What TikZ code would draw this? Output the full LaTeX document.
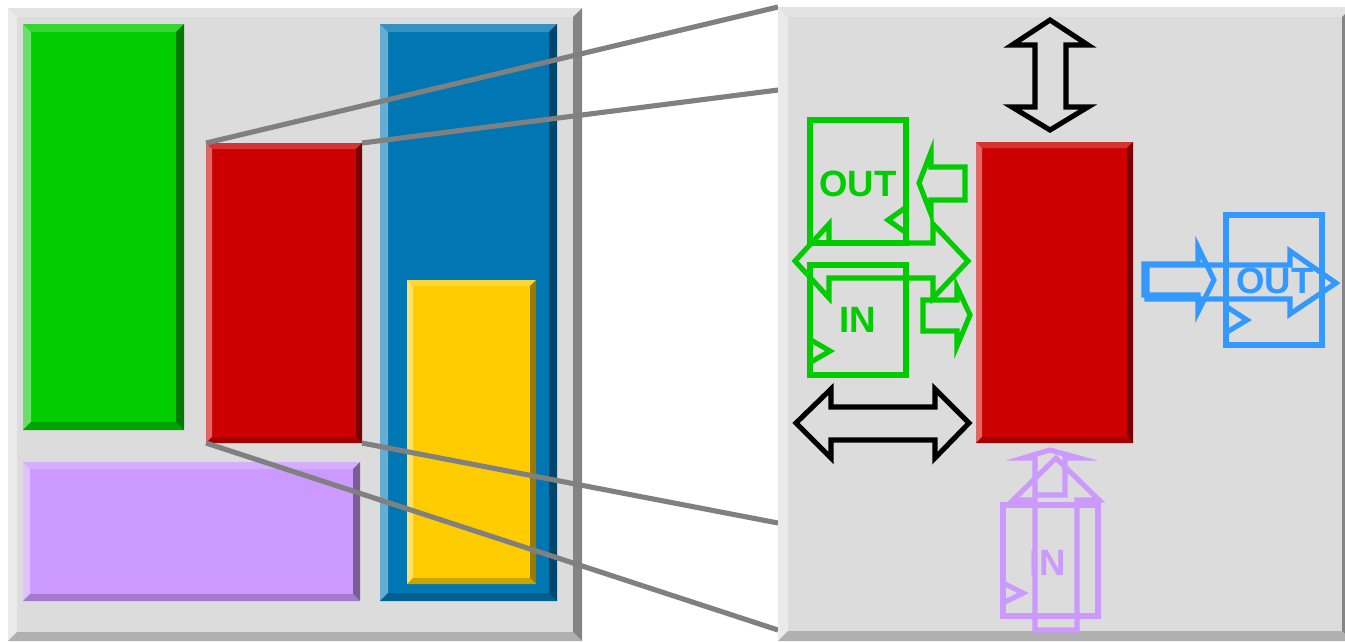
\documentclass[tikz,border=0pt]{standalone}
\usepackage{fontspec}
\setmainfont{Liberation Sans}

\definecolor{panel}{HTML}{DCDCDC}
\definecolor{zgreen}{HTML}{00CC00}
\definecolor{zred}{HTML}{CC0000}
\definecolor{zblue}{HTML}{0077B3}
\definecolor{zyellow}{HTML}{FFCC00}
\definecolor{zpurple}{HTML}{CC99FF}
\definecolor{zgray}{HTML}{808080}
\definecolor{portblue}{HTML}{3399FF}

% raised box: name, x1, y1, x2, y2, bevel, colour
\newcommand{\bevelrect}[7]{%
  \fill[#7] (#2,#3) rectangle (#4,#5);
  \fill[#7!80!white] (#2,#3) -- (#4,#3) -- ({#4-#6},{#3+#6}) -- ({#2+#6},{#3+#6}) -- cycle;
  \fill[#7!60!white] (#2,#3) -- ({#2+#6},{#3+#6}) -- ({#2+#6},{#5-#6}) -- (#2,#5) -- cycle;
  \fill[#7!60!black] (#4,#3) -- (#4,#5) -- ({#4-#6},{#5-#6}) -- ({#4-#6},{#3+#6}) -- cycle;
  \fill[#7!80!black] (#2,#5) -- (#4,#5) -- ({#4-#6},{#5-#6}) -- ({#2+#6},{#5-#6}) -- cycle;
  \coordinate (#1 nw) at (#2,#3);
  \coordinate (#1 ne) at (#4,#3);
  \coordinate (#1 sw) at (#2,#5);
  \coordinate (#1 se) at (#4,#5);
}

\tikzset{
  zoomline/.style={draw=zgray, line width=1.45pt},
  blackarrow/.style={draw=black, line width=1.45pt, line join=miter},
  greenport/.style={draw=zgreen, line width=1.45pt},
  blueport/.style={draw=portblue, line width=1.45pt},
  purpleport/.style={draw=zpurple, line width=1.45pt},
  porttext/.style={font=\fontsize{10.4}{12}\selectfont\bfseries, inner sep=0pt},
}

\begin{document}
\begin{tikzpicture}[x=0.01cm, y=-0.01cm]
    \clip (0,0) rectangle (1345,641);
    \fill[white] (0,0) rectangle (1345,641);

    % left: the whole floorplan
    \bevelrect{left}{8}{8}{582}{641}{9}{panel}
    \bevelrect{green}{23}{24}{184}{430}{8}{zgreen}
    \bevelrect{redL}{206}{143}{362}{443}{6}{zred}
    \bevelrect{blue}{380}{24}{557}{601}{8}{zblue}
    \bevelrect{yellow}{407}{280}{536}{584}{6}{zyellow}
    \bevelrect{purple}{23}{462}{360}{601}{7}{zpurple}

    % zoom lines
    \coordinate (zoomA) at (778,7);
    \coordinate (zoomB) at (778,90);
    \coordinate (zoomC) at (778,523);
    \coordinate (zoomD) at (778,630);
    \draw[zoomline] (redL nw) -- (zoomA);
    \draw[zoomline] (redL ne) -- (zoomB);
    \draw[zoomline] (redL se) -- (zoomC);
    \draw[zoomline] (redL sw) -- (zoomD);

    % right: zoomed block
    \bevelrect{right}{778}{7}{1352}{641}{10}{panel}
    \bevelrect{redR}{976}{142}{1133}{443}{6}{zred}

    % black double arrows
    \draw[blackarrow] (1050,20) -- (1088,45) -- (1066,45) -- (1066,107) -- (1088,107)
        -- (1050,130) -- (1012,107) -- (1035,107) -- (1035,45) -- (1012,45) -- cycle;
    \draw[blackarrow] (796,423) -- (831,389) -- (831,407) -- (935,407) -- (935,389)
        -- (969,423) -- (935,458) -- (935,440) -- (831,440) -- (831,458) -- cycle;

    % green ports
    \draw[greenport] (810,120) rectangle (906,243);
    \draw[greenport] (905,208) -- (888,220) -- (905,232);
    \draw[greenport] (810,265) rectangle (906,375);
    \draw[greenport] (811,340) -- (830,351) -- (811,362);
    \draw[greenport] (795,261) -- (829,224) -- (829,243) -- (933,243) -- (933,224)
        -- (968,261) -- (933,298) -- (933,278) -- (829,278) -- (829,298) -- cycle;
    \draw[greenport] (919,183) -- (931,152) -- (931,167) -- (965,167) -- (965,200)
        -- (931,200) -- (931,214) -- cycle;
    \draw[greenport] (923,300) -- (957,300) -- (957,287) -- (970,315) -- (957,346)
        -- (957,331) -- (923,331) -- cycle;
    \node[porttext, text=zgreen] (outG) at (858,184) {OUT};
    \node[porttext, text=zgreen] (inG) at (858,320) {IN};

    % blue port
    \draw[blueport] (1226,215) rectangle (1322,345);
    \draw[blueport] (1227,307) -- (1247,320) -- (1227,332);
    \draw[blueport] (1147,265) -- (1290,265) -- (1290,251) -- (1336,283) -- (1290,314)
        -- (1290,299) -- (1147,299) -- cycle;
    \draw[blueport] (1144,264) -- (1198,264) -- (1198,247) -- (1214,280) -- (1198,312)
        -- (1198,295) -- (1144,295) -- cycle;
    \node[porttext, text=portblue] (outB) at (1275,281) {OUT};

    % purple port
    \draw[purpleport] (1003,505) rectangle (1098,616);
    \draw[purpleport] (1001,582) -- (1023,593) -- (1001,604);
    \draw[purpleport] (1035,630) -- (1035,500) -- (1013,500) -- (1056,458) -- (1099,500)
        -- (1077,500) -- (1077,630) -- cycle;
    \draw[purpleport] (1035,495) -- (1035,458) -- (1023,458) -- (1050,450) -- (1079,458)
        -- (1065,458) -- (1065,495) -- cycle;
    \node[porttext, text=zpurple] (inP) at (1048,563) {IN};
\end{tikzpicture}
\end{document}
